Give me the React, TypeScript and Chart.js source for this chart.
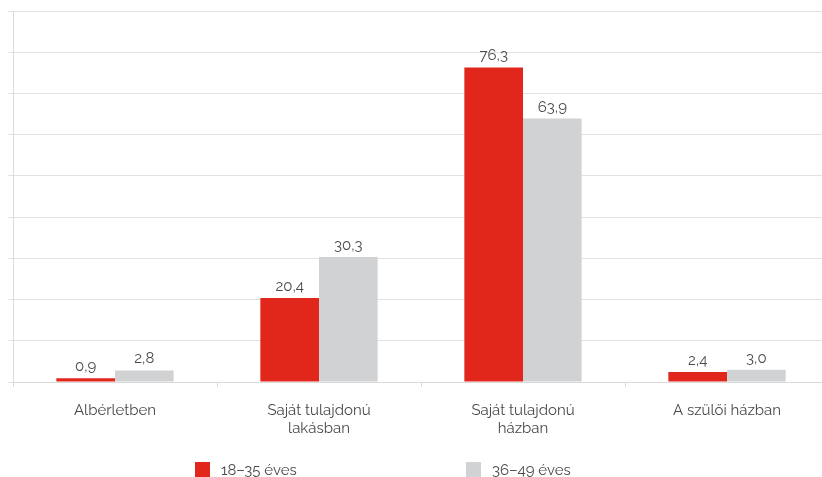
import React, { useEffect, useRef } from "react";
import { Chart, registerables } from "chart.js";

Chart.register(...registerables);

const categories: (string | string[])[] = [
  "Albérletben",
  ["Saját tulajdonú", "lakásban"],
  ["Saját tulajdonú", "házban"],
  "A szülői házban",
];
const seriesNames = ["18–35 éves", "36–49 éves"];
const young = [0.9, 20.4, 76.3, 2.4];
const older = [2.8, 30.3, 63.9, 3.0];
const colors = ["#e1261c", "#d1d2d4"];

const FONT = 'Raleway, Lato, "Open Sans", sans-serif';
const TEXT = "#4a4a4a";

const valueLabels = {
  id: "valueLabels",
  afterDatasetsDraw(chart: any) {
    const ctx = chart.ctx;
    ctx.save();
    ctx.font = `15px ${FONT}`;
    ctx.fillStyle = TEXT;
    ctx.textAlign = "center";
    ctx.textBaseline = "alphabetic";
    chart.data.datasets.forEach((ds: any, i: number) => {
      const meta = chart.getDatasetMeta(i);
      meta.data.forEach((bar: any, j: number) => {
        const v = ds.data[j] as number;
        const txt = v.toFixed(1).replace(".", ",");
        ctx.fillText(txt, bar.x, bar.y - 7);
      });
    });
    ctx.restore();
  },
};

const customLegend = {
  id: "customLegend",
  afterDraw(chart: any) {
    const ctx = chart.ctx;
    const xs = [195, 466];
    const y = 462;
    ctx.save();
    ctx.font = `15px ${FONT}`;
    ctx.textAlign = "left";
    ctx.textBaseline = "middle";
    chart.data.datasets.forEach((ds: any, i: number) => {
      ctx.fillStyle = ds.backgroundColor;
      ctx.fillRect(xs[i], y, 15, 15);
      ctx.fillStyle = TEXT;
      ctx.fillText(ds.label, xs[i] + 26, y + 8);
    });
    ctx.restore();
  },
};

export default function App() {
  const ref = useRef<HTMLCanvasElement | null>(null);
  useEffect(() => {
    if (!ref.current) return;
    const chart = new Chart(ref.current, {
      type: "bar",
      data: {
        labels: categories,
        datasets: [
          { label: seriesNames[0], data: young, backgroundColor: colors[0] },
          { label: seriesNames[1], data: older, backgroundColor: colors[1] },
        ],
      },
      options: {
        responsive: false,
        animation: false,
        layout: { padding: { left: 8, top: 11, right: 11, bottom: 26 } },
        datasets: {
          bar: { categoryPercentage: 0.575, barPercentage: 1 },
        },
        plugins: {
          legend: { display: false },
          tooltip: { enabled: false },
        },
        scales: {
          x: {
            grid: {
              offset: true,
              drawOnChartArea: false,
              drawTicks: true,
              tickLength: 5,
              color: "#dadada",
            },
            border: { display: true, color: "#dadada" },
            ticks: {
              color: TEXT,
              font: { family: FONT, size: 15, lineHeight: 1.2 },
              padding: 14,
              maxRotation: 0,
              autoSkip: false,
            },
          },
          y: {
            min: 0,
            max: 90,
            grid: { color: "#e2e2e2", tickLength: 5, drawTicks: true },
            border: { display: true, color: "#dadada" },
            ticks: { display: false, stepSize: 10 },
          },
        },
      },
      plugins: [valueLabels, customLegend],
    });
    return () => chart.destroy();
  }, []);
  return (
    <div
      style={{
        position: "fixed",
        left: 0,
        top: 0,
        width: 822,
        height: 477,
        overflow: "hidden",
        background: "#fff",
      }}
    >
      <canvas ref={ref} width={840} height={477} style={{ display: "block" }} />
    </div>
  );
}
